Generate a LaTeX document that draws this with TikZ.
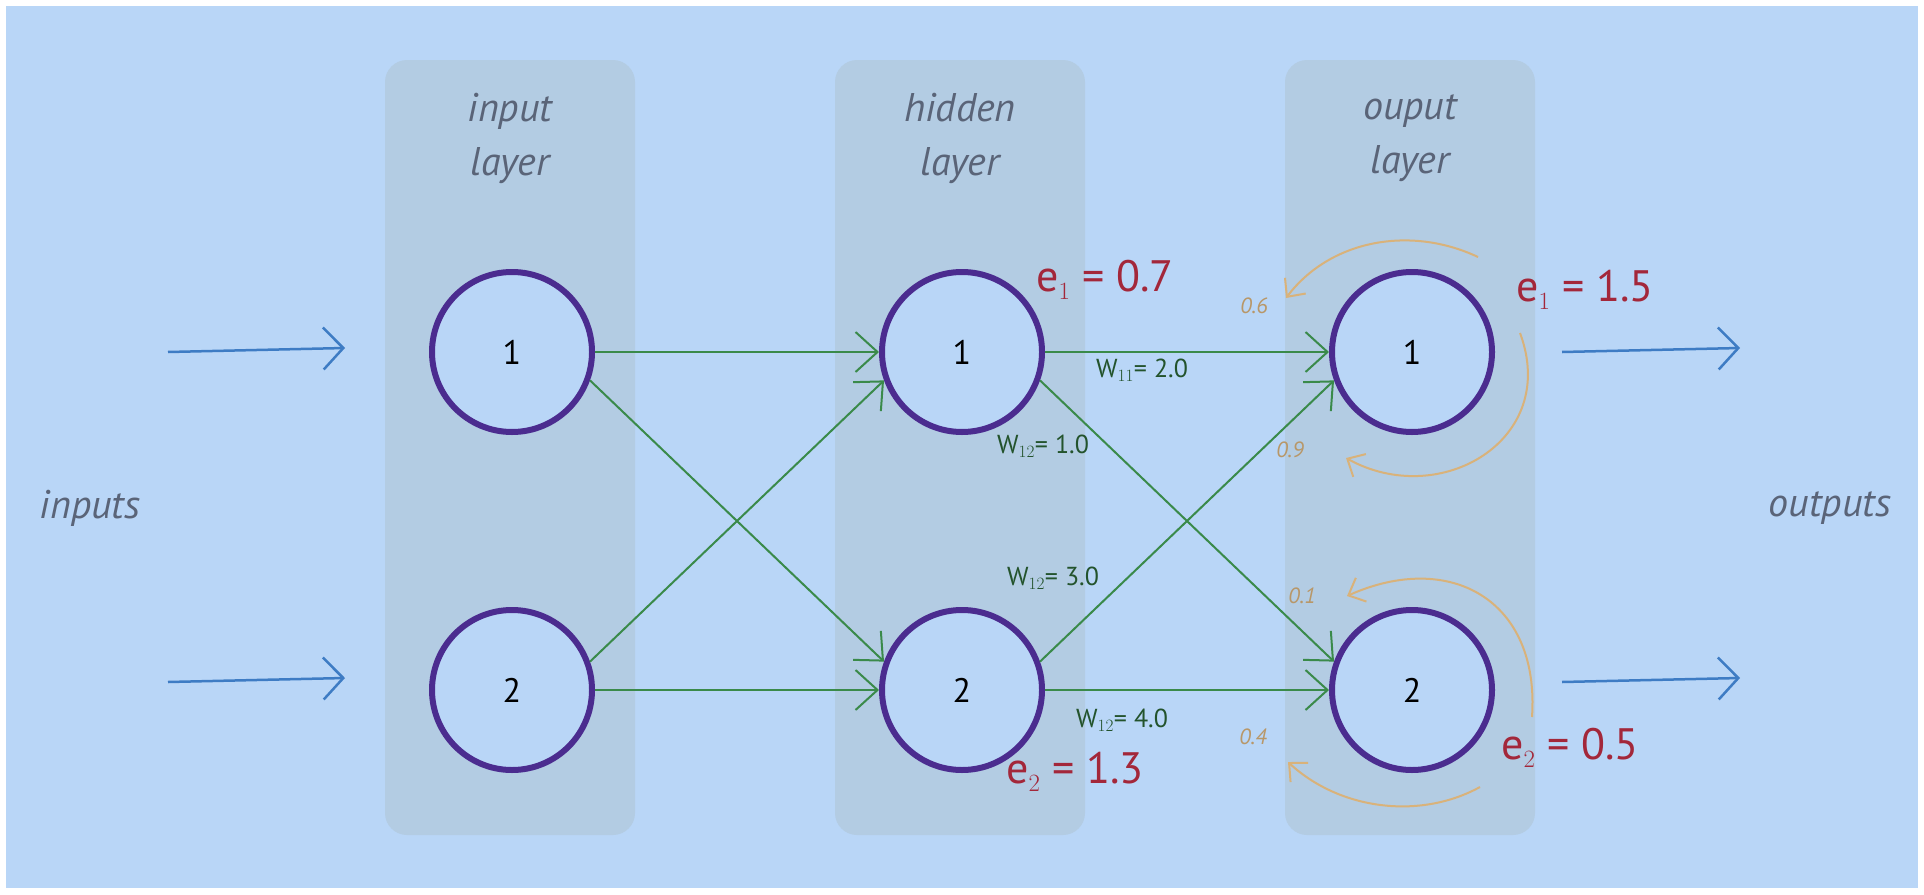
\documentclass[tikz,border=0pt]{standalone}
\usepackage{fontspec}
\setmainfont{PT Sans}
\usetikzlibrary{arrows.meta}
\definecolor{bg}{HTML}{B9D6F7}
\definecolor{col}{HTML}{B3CCE3}
\definecolor{neur}{HTML}{4B2C8F}
\definecolor{grn}{HTML}{3A8A4A}
\definecolor{blu}{HTML}{3E7CC4}
\definecolor{org}{HTML}{D9B27A}
\definecolor{red}{HTML}{A3273A}
\definecolor{gry}{HTML}{5A6478}
\begin{document}
\begin{tikzpicture}[x=1pt,y=-1pt,
  layer/.style={fill=col,rounded corners=22pt},
  neuron/.style={circle,draw=neur,line width=6pt,fill=bg,minimum size=160pt,inner sep=0pt,font=\fontsize{34}{34}\selectfont},
  lbl/.style={text=gry,font=\itshape\fontsize{40}{54}\selectfont,align=center},
  garr/.style={draw=grn,line width=2pt,-{Straight Barb[length=22pt,width=40pt]}},
  barr/.style={draw=blu,line width=2.5pt,-{Straight Barb[length=20pt,width=42pt]}},
  oarr/.style={draw=org,line width=2pt,-{Straight Barb[length=14pt,width=26pt]}},
  w/.style={text=grn!60!black,font=\fontsize{26}{26}\selectfont},
  e/.style={text=red,font=\fontsize{44}{44}\selectfont},
  o/.style={text=org!85!black,font=\itshape\fontsize{22}{22}\selectfont}]
\useasboundingbox (0,0) rectangle (1924,894);
\fill[white] (0,0) rectangle (1924,894);
\fill[bg] (6,6) rectangle (1918,888);
\fill[layer] (385,60) rectangle (635,835);
\fill[layer] (835,60) rectangle (1085,835);
\fill[layer] (1285,60) rectangle (1535,835);
\node[lbl] (l1) at (510,138) {input\\layer};
\node[lbl] (l2) at (960,138) {hidden\\layer};
\node[lbl] (l3) at (1410,138) {ouput\\layer};
\node[neuron] (i1) at (512,352) {1};
\node[neuron] (i2) at (512,690) {2};
\node[neuron] (h1) at (962,352) {1};
\node[neuron] (h2) at (962,690) {2};
\node[neuron] (o1) at (1412,352) {1};
\node[neuron] (o2) at (1412,690) {2};
\node[lbl] (in) at (90,508) {inputs};
\node[lbl] (out) at (1830,508) {outputs};
\coordinate (a1) at (168,352); \coordinate (a2) at (168,682);
\coordinate (a1e) at (345,348); \coordinate (a2e) at (345,678);
\coordinate (b1) at (1562,352); \coordinate (b2) at (1562,682);
\coordinate (c1) at (1740,348); \coordinate (c2) at (1740,678);
\draw[barr] (a1) -- (a1e);
\draw[barr] (a2) -- (a2e);
\draw[barr] (b1) -- (c1);
\draw[barr] (b2) -- (c2);
\draw[garr] (i1.east) -- (h1.west);
\draw[garr] (i1.-20) -- (h2.160);
\draw[garr] (i2.20) -- (h1.-160);
\draw[garr] (i2.east) -- (h2.west);
\draw[garr] (h1.east) -- (o1.west);
\draw[garr] (h1.-20) -- (o2.160);
\draw[garr] (h2.20) -- (o1.-160);
\draw[garr] (h2.east) -- (o2.west);
\node[w] (w1) at (1142,370) {W$_{11}$= 2.0};
\node[w] (w2) at (1043,446) {W$_{12}$= 1.0};
\node[w] (w3) at (1053,578) {W$_{12}$= 3.0};
\node[w] (w4) at (1122,720) {W$_{12}$= 4.0};
\node[e] (e1) at (1105,280) {e$_1$ = 0.7};
\node[e] (e2) at (1075,772) {e$_2$ = 1.3};
\node[e] (e3) at (1585,290) {e$_1$ = 1.5};
\node[e] (e4) at (1570,748) {e$_2$ = 0.5};
\coordinate (p1) at (1478,257); \coordinate (q1) at (1286,298);
\coordinate (p2) at (1520,333); \coordinate (q2) at (1346,458);
\coordinate (p3) at (1532,717); \coordinate (q3) at (1347,596);
\coordinate (p4) at (1480,787); \coordinate (q4) at (1288,762);
\draw[oarr] (p1) .. controls (1410,225) and (1330,240) .. (q1);
\draw[oarr] (p2) .. controls (1560,440) and (1440,510) .. (q2);
\draw[oarr] (p3) .. controls (1540,600) and (1450,550) .. (q3);
\draw[oarr] (p4) .. controls (1420,820) and (1340,810) .. (q4);
\node[o] (n1) at (1254,306) {0.6};
\node[o] (n2) at (1290,450) {0.9};
\node[o] (n3) at (1302,596) {0.1};
\node[o] (n4) at (1253,737) {0.4};
\end{tikzpicture}
\end{document}
